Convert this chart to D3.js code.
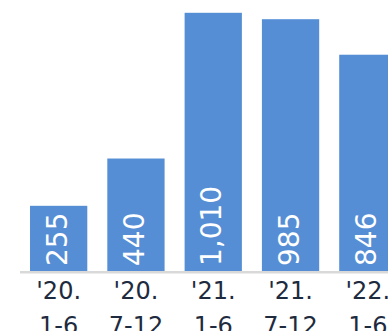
<!DOCTYPE html>
<html>
<head>
<meta charset="utf-8">
<script src="https://cdn.jsdelivr.net/npm/d3@7"></script>
<style>
  html, body { margin: 0; padding: 0; background: #ffffff; }
  svg { display: block; }
</style>
</head>
<body>
<svg id="chart" width="388" height="331"></svg>
<script>
const categories = [["'20.", "1-6"], ["'20.", "7-12"], ["'21.", "1-6"], ["'21.", "7-12"], ["'22.", "1-6"]];
const values = [255, 440, 1010, 985, 846];
const valueLabels = ["255", "440", "1,010", "985", "846"];

const W = 388, H = 331;
const baseY = 271;
const svg = d3.select("#chart");

const keys = categories.map((c, i) => i);
const x = d3.scaleBand().domain(keys).range([20, 406.5]).paddingInner(0.259).paddingOuter(0.1295);
const y = d3.scaleLinear().domain([0, 1010]).range([baseY, 12.8]);

const barColor = "#558ed5";
const textColor = "#1e2b3e";

svg.selectAll("rect.bar")
  .data(values)
  .join("rect")
  .attr("class", "bar")
  .attr("x", (d, i) => x(i))
  .attr("width", x.bandwidth())
  .attr("y", d => y(d))
  .attr("height", d => y(0) - y(d))
  .attr("fill", barColor);

// baseline
svg.append("line")
  .attr("x1", 20).attr("x2", W)
  .attr("y1", baseY + 1.2).attr("y2", baseY + 1.2)
  .attr("stroke", "#d9d9d9").attr("stroke-width", 2.5);

// value labels (rotated)
svg.selectAll("text.val")
  .data(values)
  .join("text")
  .attr("class", "val")
  .attr("transform", (d, i) => `translate(${x(i) + x.bandwidth() / 2 + 8},${baseY - 5}) rotate(-90)`)
  .attr("text-anchor", "start")
  .attr("font-family", "DejaVu Sans, Verdana, sans-serif")
  .attr("font-size", 28)
  .attr("fill", "#ffffff")
  .text((d, i) => valueLabels[i]);

// category labels
const cat = svg.selectAll("text.cat")
  .data(categories)
  .join("text")
  .attr("class", "cat")
  .attr("text-anchor", "middle")
  .attr("font-family", "DejaVu Sans, Verdana, sans-serif")
  .attr("font-size", 24)
  .attr("fill", textColor);

cat.selectAll("tspan")
  .data((d, i) => d.map(s => ({ s, i })))
  .join("tspan")
  .attr("x", d => x(d.i) + x.bandwidth() / 2)
  .attr("y", (d, j) => 299 + j * 35)
  .text(d => d.s);
</script>
</body>
</html>
